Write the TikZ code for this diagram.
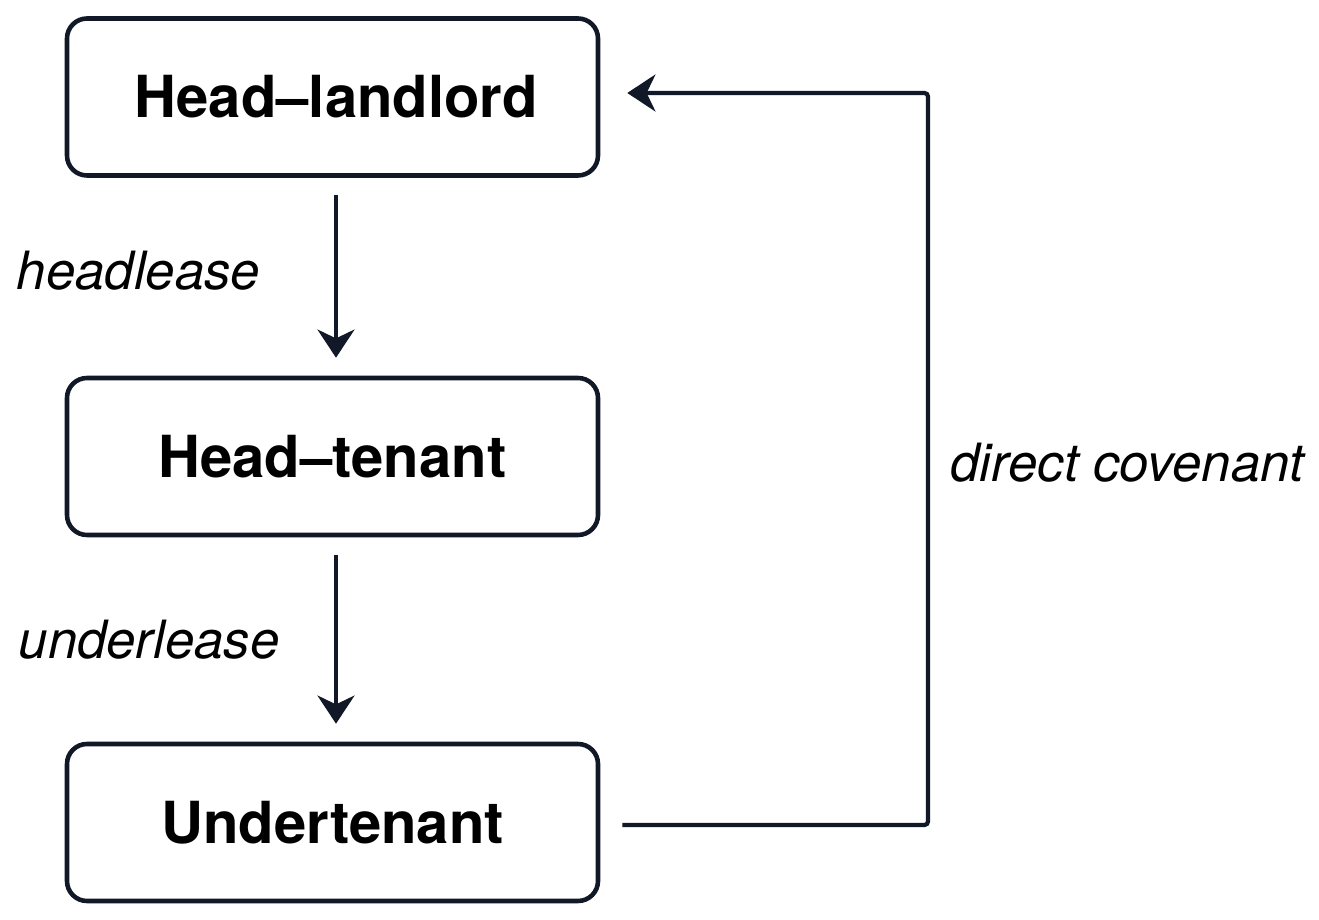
\documentclass[tikz,border=0pt]{standalone}
\usepackage{fontspec}
\setmainfont{TeX Gyre Heros}
\usetikzlibrary{arrows.meta}
\definecolor{ink}{HTML}{111827}

\tikzset{
  party/.style={draw=ink,line width=2.6pt,rounded corners=0.4cm,minimum width=10.62cm,
    minimum height=3.14cm,font=\fontsize{33}{38}\selectfont\bfseries,text=black},
  lease/.style={font=\fontsize{30}{36}\selectfont\itshape,text=black,inner sep=0pt},
  link/.style={draw=ink,line width=2.4pt,-{Stealth[length=16pt,width=21pt,inset=5pt]}}
}

\begin{document}
\begin{tikzpicture}
            \useasboundingbox (0,0) rectangle (26.38,-18.4);
            \node[party] (landlord) at (6.65,-1.94) {\hspace*{0.15cm}Head--landlord};
            \node[party] (tenant) at (6.65,-9.13) {Head--tenant};
            \node[party] (under) at (6.65,-16.45) {Undertenant};

            \draw[link,shorten <=0.34cm,shorten >=0.36cm] ([xshift=0.07cm]landlord.south)--([xshift=0.07cm]tenant.north);
            \draw[link,shorten <=0.36cm,shorten >=0.36cm] ([xshift=0.07cm]tenant.south)--([xshift=0.07cm]under.north);
            \node[lease] (headlease) at (2.77,-5.42) {headlease};
            \node[lease] (underlease) at (2.98,-12.8) {underlease};

            \coordinate (turn) at (18.56,0);
            \draw[link,rounded corners=2pt,shorten <=0.44cm,shorten >=0.54cm]
              ([yshift=-0.05cm]under.east)--([yshift=-0.05cm]under.east-|turn)
              --([yshift=0.08cm]landlord.east-|turn)--([yshift=0.08cm]landlord.east);
            \node[lease] (covenant) at (22.55,-9.26) {direct covenant};
        \end{tikzpicture}
\end{document}
